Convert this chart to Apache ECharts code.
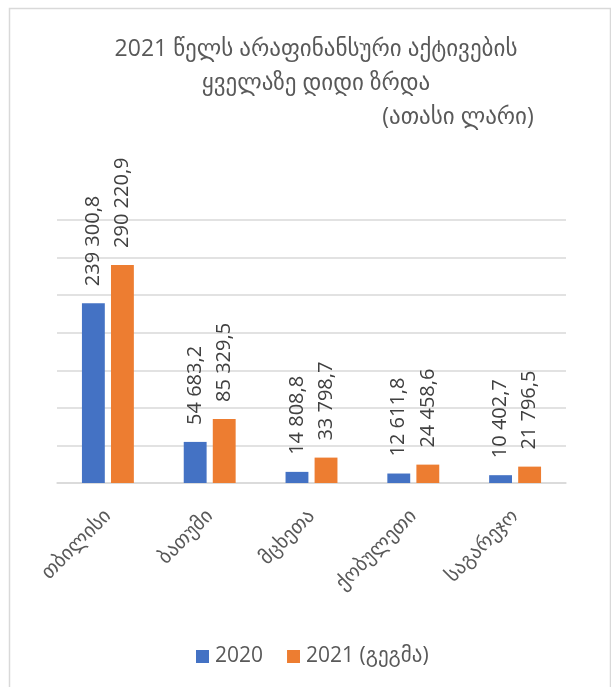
<!DOCTYPE html>
<html>
<head>
<meta charset="utf-8">
<script src="https://cdn.jsdelivr.net/npm/echarts@6/dist/echarts.min.js"></script>
<style>
  html, body { margin: 0; padding: 0; background: #fff; }
  #chart { width: 611px; height: 687px; }
</style>
</head>
<body>
<div id="chart"></div>
<script>
// Regions with the largest growth of non-financial assets (thousand GEL)
const categories = ['თბილისი', 'ბათუმი', 'მცხეთა', 'ქობულეთი', 'საგარეჯო'];
const values2020 = [239300.8, 54683.2, 14808.8, 12611.8, 10402.7];
const values2021 = [290220.9, 85329.5, 33798.7, 24458.6, 21796.5];
const seriesNames = ['2020', '2021 (გეგმა)'];

const FONT = '"Open Sans", "DejaVu Sans", sans-serif';

// 239300.8 -> "239 300,8"
function fmt(v) {
  const parts = v.toFixed(1).split('.');
  const intPart = parts[0].replace(/\B(?=(\d{3})+(?!\d))/g, ' ');
  return intPart + ',' + parts[1];
}

const valueLabel = {
  show: true,
  position: 'top',
  distance: 17,
  rotate: 90,
  align: 'left',
  verticalAlign: 'middle',
  color: '#404040',
  fontFamily: FONT,
  fontSize: 20,
  formatter: p => fmt(p.value)
};

const chart = echarts.init(document.getElementById('chart'), null, { renderer: 'canvas' });
chart.setOption({
  backgroundColor: '#fff',
  animation: false,
  graphic: [{
    type: 'rect',
    shape: { x: 9.5, y: 8.5, width: 601, height: 700 },
    style: { fill: 'none', stroke: '#d9d9d9', lineWidth: 1.5 },
    silent: true
  }],
  title: [{
    text: '2021 წელს არაფინანსური აქტივების\nყველაზე დიდი ზრდა',
    left: 311,
    top: 27,
    textAlign: 'center',
    textStyle: { color: '#595959', fontFamily: FONT, fontSize: 23, fontWeight: 'normal', lineHeight: 34 }
  }, {
    text: '(ათასი ლარი)',
    left: 453,
    top: 95,
    textAlign: 'center',
    textStyle: { color: '#595959', fontFamily: FONT, fontSize: 23, fontWeight: 'normal', lineHeight: 34 }
  }],
  legend: {
    top: 641,
    left: 191,
    itemWidth: 13,
    itemHeight: 13,
    itemGap: 24,
    icon: 'rect',
    textStyle: { color: '#595959', fontFamily: FONT, fontSize: 21, padding: [0, 0, 0, 1] },
    data: seriesNames
  },
  grid: { left: 57, right: 45, top: 220, bottom: 204, containLabel: false },
  xAxis: {
    type: 'category',
    data: categories,
    axisLine: { lineStyle: { color: '#d9d9d9', width: 1.5 } },
    axisTick: { show: false },
    axisLabel: {
      rotate: 45,
      margin: 30,
      color: '#595959',
      fontFamily: FONT,
      fontSize: 20,
      interval: 0
    }
  },
  yAxis: {
    type: 'value',
    min: 0,
    max: 350000,
    interval: 50000,
    axisLine: { show: false },
    axisTick: { show: false },
    axisLabel: { show: false },
    splitLine: { lineStyle: { color: '#d9d9d9', width: 1.5 } }
  },
  series: [{
    name: seriesNames[0],
    type: 'bar',
    data: values2020,
    itemStyle: { color: '#4472C4' },
    barGap: '27%',
    barCategoryGap: '49%',
    label: valueLabel
  }, {
    name: seriesNames[1],
    type: 'bar',
    data: values2021,
    itemStyle: { color: '#ED7D31' },
    label: valueLabel
  }]
});
</script>
</body>
</html>
